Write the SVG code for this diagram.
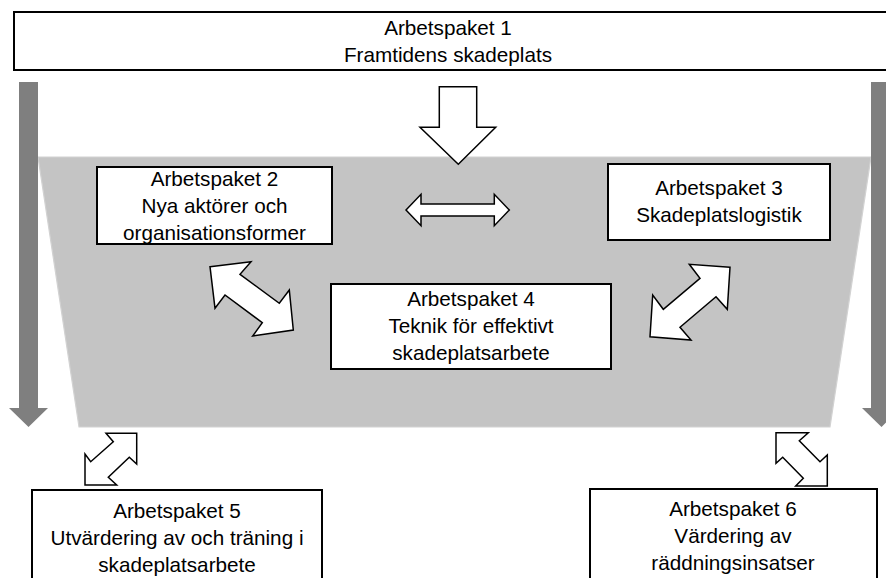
<svg xmlns="http://www.w3.org/2000/svg" width="886" height="578" viewBox="0 0 886 578">
<style>
.box{fill:#fff;stroke:#000;stroke-width:2}
.t{font-family:"Liberation Sans",Arial,sans-serif;font-size:20.7px;fill:#000;text-anchor:middle}
.blk{fill:#fff;stroke:#000;stroke-width:1.5;stroke-linejoin:miter}
.bar{fill:#7f7f7f}
</style>
<rect width="886" height="578" fill="#fff"/>
<g id="background">
<polygon points="38,157 871,157 830,427 79,427" fill="#c4c4c4" stroke="#d2d2d2" stroke-width="1.2"/>
</g>
<g id="side-arrows">
<polygon class="bar" points="19,82 38,82 38,408 48,408 28.5,427 9,408 19,408"/>
<polygon class="bar" points="871,82 891,82 891,408 901,408 881.5,427 862,408 871,408"/>
</g>
<g id="ap1">
<rect class="box" x="14" y="12" width="880" height="58"/>
<text class="t" x="448" y="35">Arbetspaket 1</text>
<text class="t" x="448" y="62">Framtidens skadeplats</text>
</g>
<g id="ap2">
<rect class="box" x="97" y="167" width="235" height="77"/>
<text class="t" x="214.5" y="186">Arbetspaket 2</text>
<text class="t" x="214.5" y="213">Nya aktörer och</text>
<text class="t" x="214.5" y="240">organisationsformer</text>
</g>
<g id="ap3">
<rect class="box" x="608" y="164" width="222" height="76"/>
<text class="t" x="719" y="195">Arbetspaket 3</text>
<text class="t" x="719" y="222">Skadeplatslogistik</text>
</g>
<g id="ap4">
<rect class="box" x="331" y="284" width="280" height="85"/>
<text class="t" x="471" y="306">Arbetspaket 4</text>
<text class="t" x="471" y="333">Teknik för effektivt</text>
<text class="t" x="471" y="360">skadeplatsarbete</text>
</g>
<g id="ap5">
<rect class="box" x="32" y="490" width="290" height="100"/>
<text class="t" x="177" y="518">Arbetspaket 5</text>
<text class="t" x="177" y="545">Utvärdering av och träning i</text>
<text class="t" x="177" y="572">skadeplatsarbete</text>
</g>
<g id="ap6">
<rect class="box" x="590" y="489" width="287" height="100"/>
<text class="t" x="733" y="516">Arbetspaket 6</text>
<text class="t" x="733" y="543">Värdering av</text>
<text class="t" x="733" y="570">räddningsinsatser</text>
</g>
<g id="connectors">
<polygon class="blk" points="439.3,86.7 476.7,86.7 476.7,127.3 495.7,127.3 458.3,164.3 420,127.3 439.3,127.3"/>
<polygon class="blk" points="406,210 421,194.3 421,204 494.3,204 494.3,194.3 509.3,210 494.3,225.7 494.3,216 421,216 421,225.7"/>
<polygon class="blk" points="210,266.7 251,261.7 240,274.3 279.3,303.3 289.3,290 293.3,330 252.7,336 262.3,322.7 225,295 215,308.3"/>
<polygon class="blk" points="730,267.3 689.3,264.3 700,278.3 663.3,309.3 652.7,295 650,336.7 691,340 680,327.3 716,296.7 727.3,309.3"/>
<polygon class="blk" points="106,433.3 113.3,441.7 90.7,461.7 85,454 85,485 116.7,485 108.3,477.3 129.3,457.3 136.7,464 136.7,433.3"/>
<polygon class="blk" points="776,432.7 808.3,432.7 799.3,440.7 820,461.7 827.3,455 827.3,486 795.7,486 803.3,478.3 782.7,457.3 776,463.3"/>
</g>
</svg>
